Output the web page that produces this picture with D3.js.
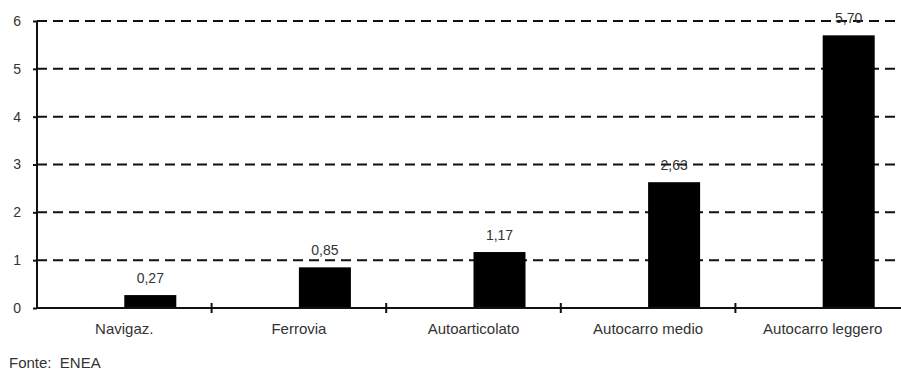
<!DOCTYPE html>
<html>
<head>
<meta charset="utf-8">
<script src="https://cdn.jsdelivr.net/npm/d3@7"></script>
<style>
  html, body { margin: 0; padding: 0; background: #fff; }
  svg { display: block; font-family: "Liberation Sans", Arial, sans-serif; }
</style>
</head>
<body>
<svg id="chart" width="901" height="373"></svg>
<script>
const categories = ["Navigaz.", "Ferrovia", "Autoarticolato", "Autocarro medio", "Autocarro leggero"];
const values = [0.27, 0.85, 1.17, 2.63, 5.70];
const valueLabels = ["0,27", "0,85", "1,17", "2,63", "5,70"];
const yTicks = [0, 1, 2, 3, 4, 5, 6];
const sourceNote = "Fonte:  ENEA";

const svg = d3.select("#chart");
const mLeft = 37, mRight = 910, mTop = 21, mBottom = 308;

const x = d3.scaleBand().domain(categories).range([mLeft, mRight]).padding(0);
const slots = ["empty", "value"];
const x1 = d3.scaleBand().domain(slots).range([0, x.bandwidth()])
  .paddingInner(0).paddingOuter((x.bandwidth() / 52 - 2) / 2);
const y = d3.scaleLinear().domain([0, 6]).range([mBottom, mTop]);

const ink = "#111";
const textCol = "#333";
const fs = 15;

// gridlines
svg.append("g").selectAll("line").data(yTicks.filter(t => t > 0)).join("line")
  .attr("x1", mLeft).attr("x2", 901)
  .attr("y1", d => y(d)).attr("y2", d => y(d))
  .attr("stroke", ink).attr("stroke-width", 2).attr("stroke-dasharray", "10,6");

// bars
svg.append("g").selectAll("rect").data(values).join("rect")
  .attr("x", (d, i) => x(categories[i]) + x1("value"))
  .attr("y", d => y(d))
  .attr("width", x1.bandwidth())
  .attr("height", d => y(0) - y(d))
  .attr("fill", "#000");

// value labels
svg.append("g").selectAll("text").data(values).join("text")
  .attr("x", (d, i) => x(categories[i]) + x1("value") + x1.bandwidth() / 2)
  .attr("y", d => y(d) - 12)
  .attr("text-anchor", "middle")
  .attr("font-size", 14)
  .attr("fill", textCol)
  .text((d, i) => valueLabels[i]);

// y axis
const yAxis = d3.axisLeft(y).tickValues(yTicks).tickSize(4).tickPadding(12).tickFormat(d3.format("d"));
const gy = svg.append("g").attr("transform", `translate(${mLeft},0)`).call(yAxis);
gy.select(".domain").attr("stroke", ink).attr("stroke-width", 2).attr("d", `M0,${y(6)}V${y(0)}`);
gy.selectAll(".tick line").attr("stroke", ink).attr("stroke-width", 2);
gy.selectAll(".tick text").attr("font-size", 14).attr("fill", textCol)
  .attr("font-family", "Liberation Sans, Arial, sans-serif");

// x axis line
svg.append("line").attr("x1", mLeft).attr("x2", 901).attr("y1", y(0)).attr("y2", y(0))
  .attr("stroke", ink).attr("stroke-width", 2);

// x boundary ticks
const boundaries = categories.slice(1).map(c => x(c));
svg.append("g").selectAll("line").data(boundaries).join("line")
  .attr("x1", d => d).attr("x2", d => d)
  .attr("y1", y(0) - 5).attr("y2", y(0) + 5)
  .attr("stroke", ink).attr("stroke-width", 2);

// x labels
svg.append("g").selectAll("text").data(categories).join("text")
  .attr("x", d => x(d) + x.bandwidth() / 2)
  .attr("y", 334)
  .attr("text-anchor", "middle")
  .attr("font-size", fs)
  .attr("fill", textCol)
  .text(d => d);

// source
svg.append("text").attr("x", 9).attr("y", 368)
  .attr("font-size", fs).attr("fill", textCol)
  .attr("xml:space", "preserve").style("white-space", "pre")
  .text(sourceNote);
</script>
</body>
</html>
